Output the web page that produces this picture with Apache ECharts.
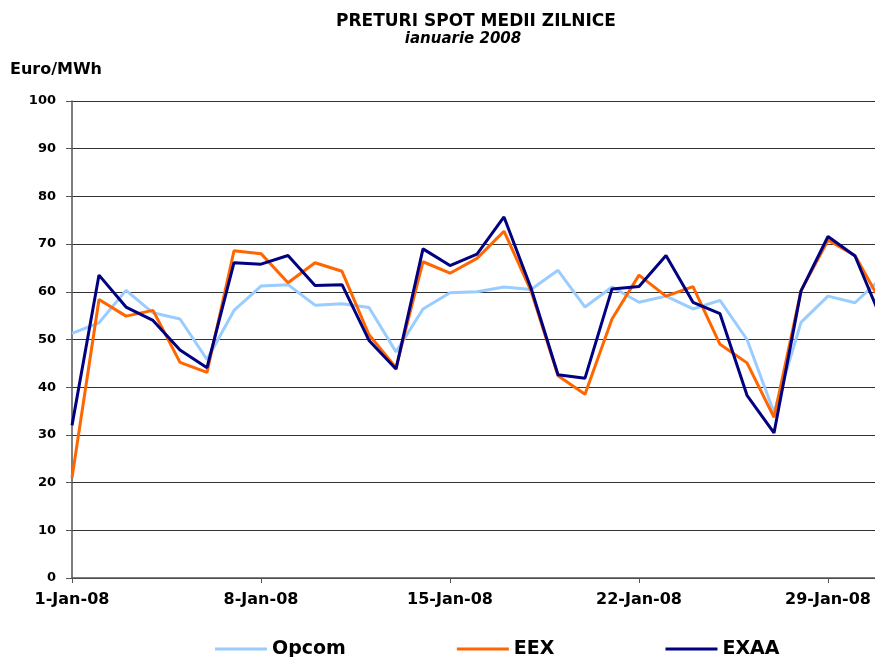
<!DOCTYPE html>
<html>
<head>
<meta charset="utf-8">
<script src="https://cdn.jsdelivr.net/npm/echarts@6/dist/echarts.min.js"></script>
<style>
  html, body { margin: 0; padding: 0; background: #fff; overflow: hidden; }
  /* the original picture is cropped on the right: the plot runs 7px past the page edge */
  #chart { width: 882px; height: 657px; }
</style>
</head>
<body>
<div id="chart"></div>
<script>
// ==============================
// data
// ==============================

const days = [
  '1-Jan-08', '2-Jan-08', '3-Jan-08', '4-Jan-08', '5-Jan-08', '6-Jan-08', '7-Jan-08',
  '8-Jan-08', '9-Jan-08', '10-Jan-08', '11-Jan-08', '12-Jan-08', '13-Jan-08', '14-Jan-08',
  '15-Jan-08', '16-Jan-08', '17-Jan-08', '18-Jan-08', '19-Jan-08', '20-Jan-08', '21-Jan-08',
  '22-Jan-08', '23-Jan-08', '24-Jan-08', '25-Jan-08', '26-Jan-08', '27-Jan-08', '28-Jan-08',
  '29-Jan-08', '30-Jan-08', '31-Jan-08'
];

const opcom = [51.3, 53.5, 60.3, 55.6, 54.3, 45.8, 56.1, 61.2, 61.5, 57.2, 57.5, 56.7, 47.4, 56.4, 59.8,
  60.0, 61.0, 60.5, 64.5, 56.8, 61.0, 57.8, 59.1, 56.4, 58.2, 50.0, 34.7, 53.6, 59.1, 57.7, 63.0];

const eex = [21.0, 58.4, 54.9, 56.1, 45.2, 43.1, 68.6, 68.0, 61.9, 66.1, 64.3, 51.0, 44.1, 66.3, 63.9,
  67.0, 72.7, 60.2, 42.4, 38.5, 54.3, 63.5, 59.1, 61.1, 49.0, 45.1, 33.7, 60.2, 70.8, 67.6, 57.5];

const exaa = [32.0, 63.5, 56.8, 54.0, 47.8, 44.1, 66.1, 65.8, 67.6, 61.3, 61.5, 49.8, 43.8, 69.0, 65.5,
  67.9, 75.7, 60.8, 42.6, 41.9, 60.6, 61.1, 67.6, 57.8, 55.4, 38.3, 30.4, 60.2, 71.6, 67.5, 54.0];

const seriesNames = ['Opcom', 'EEX', 'EXAA'];
const lineColors = ['#99CCFF', '#FF6600', '#000080'];

// ==============================
// chart
// ==============================

const FONT = 'DejaVu Sans';
const chart = echarts.init(document.getElementById('chart'));

const series = [opcom, eex, exaa].map((data, i) => ({
  name: seriesNames[i],
  type: 'line',
  data,
  showSymbol: false,
  symbol: 'none',
  lineStyle: { color: lineColors[i], width: 3 },
  itemStyle: { color: lineColors[i] }
}));

chart.setOption({
  animation: false,
  backgroundColor: '#fff',
  graphic: [
    {
      type: 'text', x: 476, y: 22,
      style: {
        text: 'PRETURI SPOT MEDII ZILNICE',
        font: 'bold 17px "DejaVu Sans"',
        fill: '#000', align: 'center', verticalAlign: 'middle'
      }
    },
    {
      type: 'text', x: 463, y: 39,
      style: {
        text: 'ianuarie 2008',
        font: 'italic bold 15px "DejaVu Sans"',
        fill: '#000', align: 'center', verticalAlign: 'middle'
      }
    },
    {
      type: 'text', x: 10, y: 70,
      style: {
        text: 'Euro/MWh',
        font: 'bold 16px "DejaVu Sans"',
        fill: '#000', align: 'left', verticalAlign: 'middle'
      }
    }
  ],
  legend: {
    data: seriesNames,
    left: 210,
    top: 634,
    itemWidth: 52,
    itemHeight: 3,
    itemGap: 111,
    icon: 'rect',
    textStyle: {
      color: '#000',
      fontSize: 19,
      fontWeight: 'bold',
      fontFamily: FONT,
      lineHeight: 20
    }
  },
  grid: {
    left: 72,
    right: 0,
    top: 101,
    bottom: 79
  },
  xAxis: {
    type: 'category',
    data: days,
    boundaryGap: false,
    axisLine: { show: true, lineStyle: { color: '#555', width: 1.5 } },
    axisTick: { show: true, interval: 6, length: 5, lineStyle: { color: '#555' } },
    axisLabel: {
      interval: 6,
      color: '#000',
      fontSize: 16,
      fontWeight: 'bold',
      fontFamily: FONT,
      margin: 14
    },
    splitLine: { show: false }
  },
  yAxis: {
    type: 'value',
    min: 0,
    max: 100,
    interval: 10,
    axisLine: { show: true, lineStyle: { color: '#555', width: 1.5 } },
    axisTick: { show: true, length: 6, lineStyle: { color: '#555' } },
    axisLabel: {
      color: '#000',
      fontSize: 13,
      fontWeight: 'bold',
      fontFamily: FONT,
      margin: 16
    },
    splitLine: { show: true, lineStyle: { color: '#333', width: 1 } }
  },
  series
});
</script>
</body>
</html>
